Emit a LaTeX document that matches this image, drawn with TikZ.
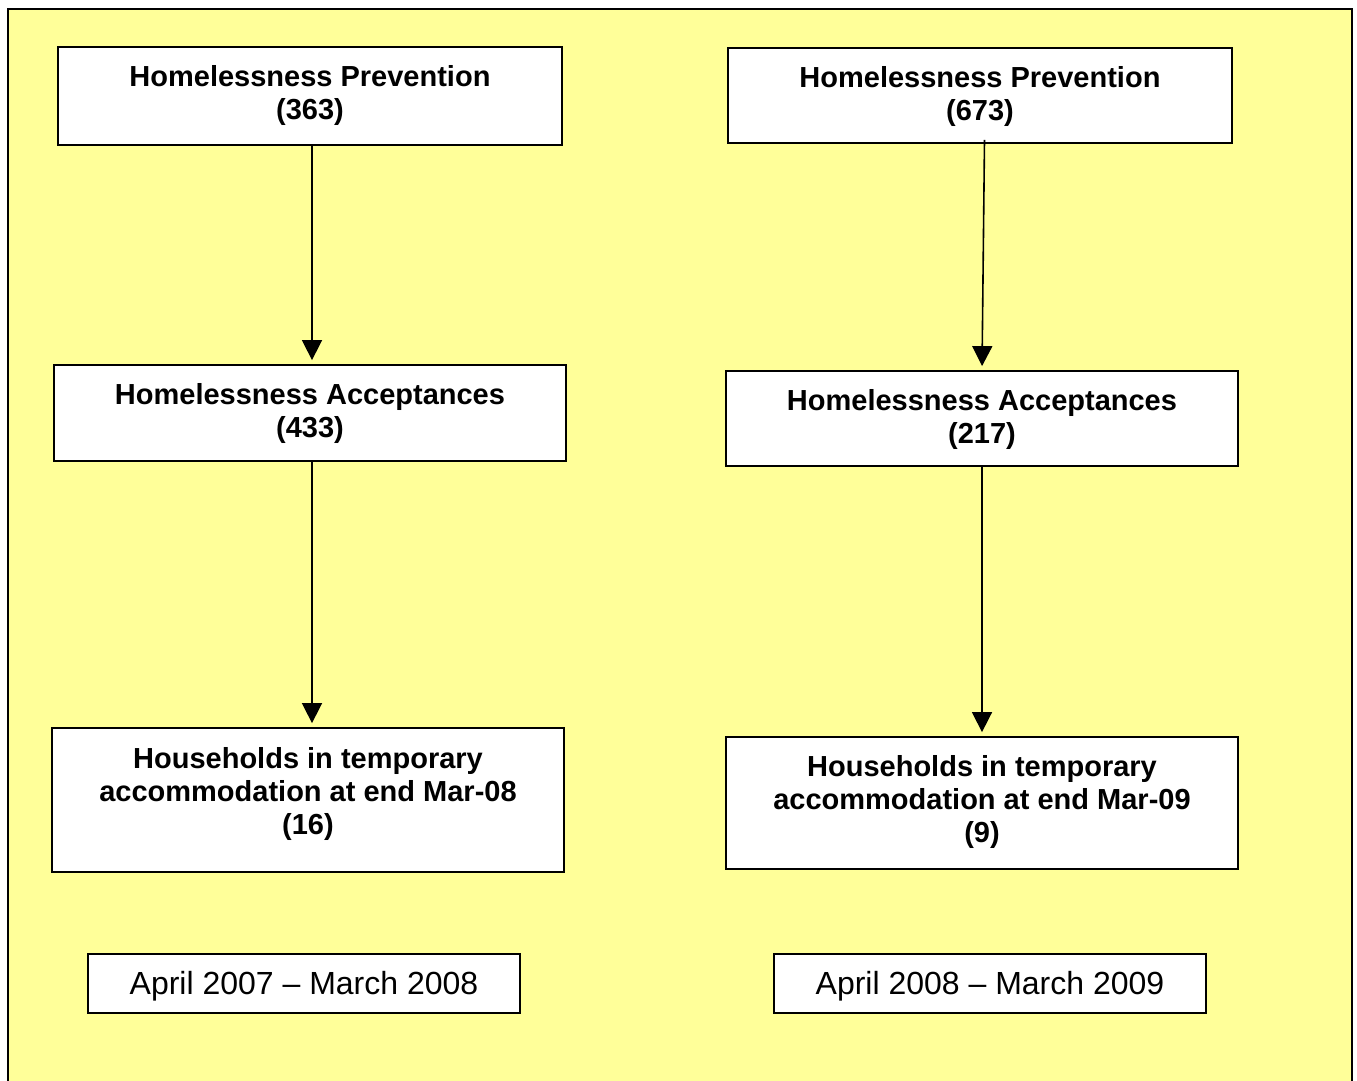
\documentclass[tikz,border=0pt]{standalone}
\usepackage{fontspec}
\setmainfont{Liberation Sans}
\usetikzlibrary{arrows.meta}
\definecolor{bgyellow}{RGB}{255,255,153}
\tikzset{
  box/.style={draw=black, line width=1.8pt, fill=white, inner sep=0pt},
  btxt/.style={align=center, font=\fontsize{29}{33}\selectfont\bfseries, inner sep=0pt},
  rtxt/.style={font=\fontsize{32}{38}\selectfont, inner sep=0pt},
  arr/.style={line width=1.6pt, -{Triangle[length=20pt,width=20pt]}, shorten >=4pt}
}
\begin{document}
\begin{tikzpicture}[x=1pt,y=-1pt]
\useasboundingbox (0,0) rectangle (1357,1081);
\fill[white] (0,0) rectangle (1357,1081);
\begin{scope}
\clip (0,0) rectangle (1357,1081);
\draw[line width=2pt, fill=bgyellow] (8,9) rectangle (1352,1100);
\end{scope}

% left column
\node[box, minimum width=504pt, minimum height=98pt] (b1) at (310,96) {};
\node[btxt] (t1) at (310,95.5) {Homelessness Prevention\\(363)};
\node[box, minimum width=512pt, minimum height=96pt] (b2) at (310,413) {};
\node[btxt] (t2) at (310,413) {Homelessness Acceptances\\(433)};
\node[box, minimum width=512pt, minimum height=144pt] (b3) at (308,800) {};
\node[btxt] (t3) at (308,794) {Households in temporary\\accommodation at end Mar-08\\(16)};
\node[box, minimum width=432pt, minimum height=59pt] (l1) at (304,983.5) {};
\node[rtxt] (lt1) at (304,986.5) {April 2007 -- March 2008};

% right column
\node[box, minimum width=504pt, minimum height=95pt] (b4) at (980,95.5) {};
\node[btxt] (t4) at (980,97) {Homelessness Prevention\\(673)};
\node[box, minimum width=512pt, minimum height=95pt] (b5) at (982,418.5) {};
\node[btxt] (t5) at (982,419) {Homelessness Acceptances\\(217)};
\node[box, minimum width=512pt, minimum height=132pt] (b6) at (982,803) {};
\node[btxt] (t6) at (982,802) {Households in temporary\\accommodation at end Mar-09\\(9)};
\node[box, minimum width=432pt, minimum height=59pt] (l2) at (990,983.5) {};
\node[rtxt] (lt2) at (990,986.5) {April 2008 -- March 2009};

% connectors
\draw[arr] ([xshift=2pt]b1.south) -- ([xshift=2pt]b1.south |- b2.north);
\draw[arr] ([xshift=2pt]b2.south) -- ([xshift=2pt]b2.south |- b3.north);
\draw[arr] ([xshift=4.5pt,yshift=4pt]b4.south) -- (b5.north);
\draw[arr] (b5.south) -- (b6.north);
\end{tikzpicture}
\end{document}
